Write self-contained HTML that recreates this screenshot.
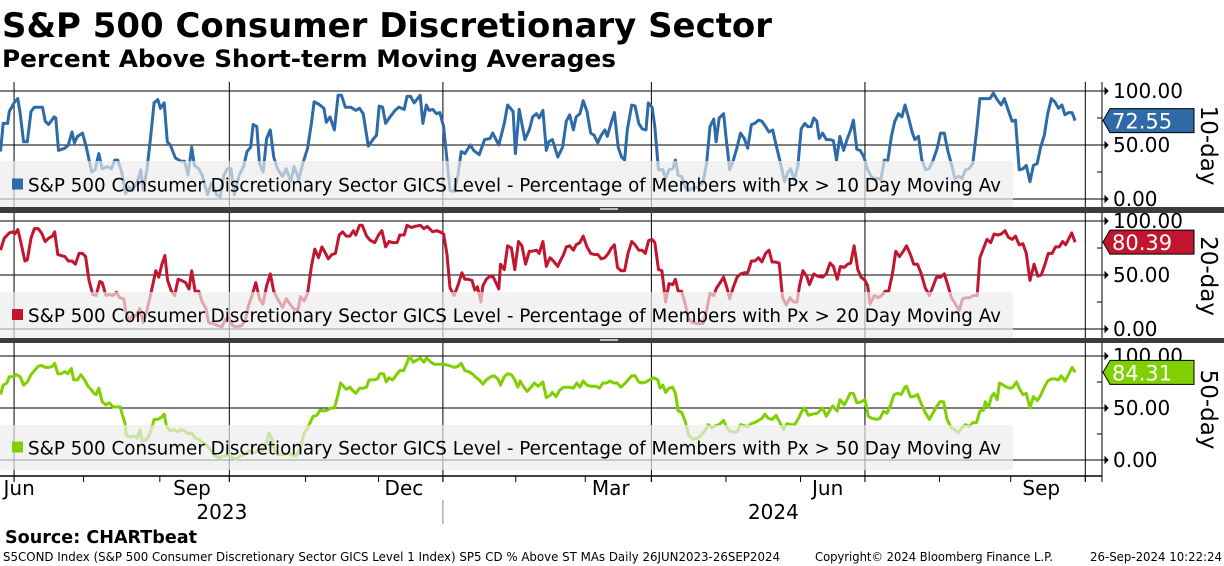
<!DOCTYPE html>
<html><head><meta charset="utf-8">
<style>
html,body{margin:0;padding:0;background:#fff;}
svg{display:block;}
text{font-family:"DejaVu Sans","Liberation Sans",sans-serif;}
</style></head>
<body>
<svg id="chart" width="1224" height="566" viewBox="0 0 1224 566" xmlns="http://www.w3.org/2000/svg">
<text x="2" y="37" font-size="34" font-weight="bold" textLength="770" lengthAdjust="spacingAndGlyphs">S&amp;P 500 Consumer Discretionary Sector</text>
<text x="2" y="67" font-size="24" font-weight="bold" textLength="614" lengthAdjust="spacingAndGlyphs">Percent Above Short-term Moving Averages</text>
<g id="grid"></g>
<g id="series"></g>
<g id="overlay"></g>
<text x="5" y="543" font-size="18" font-weight="bold" textLength="192" lengthAdjust="spacingAndGlyphs">Source: CHARTbeat</text>
<text x="3" y="561" font-size="12" textLength="777" lengthAdjust="spacingAndGlyphs">S5COND Index (S&amp;P 500 Consumer Discretionary Sector GICS Level 1 Index) SP5 CD % Above ST MAs  Daily 26JUN2023-26SEP2024</text>
<text x="815" y="561" font-size="12" textLength="238" lengthAdjust="spacingAndGlyphs">Copyright© 2024 Bloomberg Finance L.P.</text>
<text x="1090" y="561" font-size="12" textLength="132" lengthAdjust="spacingAndGlyphs">26-Sep-2024 10:22:24</text>
</svg>
<script>
// ---- data ----
const day10 = [0,0.8,2.1,2.6,4.2,5.1,5.8,6.8,7.9,9.0,10.0,12.4,13.2,14.2,15.8,16.3,17.1,19.0,20.0,21.1,21.8,22.7,24.2,25.3,26.9,27.9,29.0,30.0,31.6,32.7,33.7,34.6,35.8,36.9,37.9,39.0,40.6,41.4,42.1,43.2,44.3,45.3,46.4,47.2,48.3,49.2,50.1,51.6,53.2,54.3,55.3,56.4,57.2,58.5,59.5,61.1,62.2,63.8,64.8,65.9,66.9,68.0,69.0,70.4,71.7,72.7,73.8,74.5,75.6,76.4,77.5,78.5,79.6,80.6,81.7,83.2,84.3,85.6,86.6,88.0,89.0,90.6,91.7,92.5,93.8,95.4,96.1,97.2,98.5,99.6,100.6,101.7,103.3,104.8,105.9,107.0,108.5,110.1,110.9,111.7,112.7,113.6,114.9,116.4,117.5,119.1,119.9,121.0,122.0,123.8,124.6,125.6,126.4,127.5,128.6,129.6,130.7,131.7,132.6,133.8,134.9,135.9,137.0,138.6,139.6,141.2,142.8,144.4,145.2,147.0,148.6,149.6,151.2,151.9,153.0,154.7,156.0,157.0,158.1,158.9,160.0,161.0,161.7,162.8,164.4,165.8,166.9,167.9,169.0,169.8,170.9,171.9,173.0,174.1,175.1,176.2,177.2,178.3,179.0,180.1,181.1,182.2,183.2,184.1,184.9,186.2,187.2,188.3,189.3,190.4,191.1,192.2,193.0,194.1,195.4,196.2,197.2,198.3,199.1,199.9,200.9,202.0,203.0,204.1,205.7,207.2,208.3,209.3,210.4,211.1,212.0,213.3,214.1,215.1,216.2,217.3,218.3,219.4,220.4,221.5,222.5,223.6,224.6,225.7,226.7,227.8,228.8,230.1,231.3,232.3,233.1,234.1,235.2,236.2,237.3,238.1,239.1,239.9,240.8,241.5,242.5,243.6,244.7,245.7,246.6,247.6,248.7,249.7,250.8,251.6,252.6,253.6,254.7,255.7,256.8,257.8,258.9,259.7,260.7,261.7,262.8,263.8,264.9,265.9,266.8,267.8,268.9,269.7,270.8,271.8,272.9,273.9,275.0,276.3,277.3,278.4,279.4,280.7,281.5,282.6,283.6,284.7,285.7,286.8,287.9,288.9,290.5,291.9,292.9,294.0,295.2,296.1,297.3,298.4,299.4,300.5,301.6,302.6,303.7,304.7,305.8,306.8,307.9,308.9,310.0,311.0,312.1,313.1,314.0,315.0,316.1,317.0];
const pct10 = [44,70,70,81,90,93,79,53,53,81,85,85,72,69,76,75,45,47,50,62,52,58,61,48,25,27,42,28,30,28,36,36,24,5,11,8,18,27,8,27,58,89,92,84,89,53,50,38,35,35,22,48,31,28,22,4,15,4,2,22,28,28,4,22,30,44,48,69,67,33,25,56,64,39,28,21,28,16,30,18,31,47,70,90,88,84,71,76,64,96,96,85,85,82,84,79,49,56,59,86,85,70,76,82,85,83,95,95,89,96,70,87,82,83,79,80,67,36,8,7,21,44,42,50,45,41,55,56,61,50,70,87,81,42,83,55,64,76,79,75,82,45,53,55,39,48,72,78,64,76,79,91,81,61,59,52,59,64,58,70,80,48,39,36,64,87,86,70,65,64,89,85,67,27,27,19,27,28,36,22,21,11,8,10,11,15,33,67,74,53,75,79,55,27,36,48,61,56,47,69,70,73,72,67,62,64,50,33,16,25,28,18,30,65,70,67,67,75,72,56,61,55,55,54,36,58,45,55,64,73,46,45,39,28,21,19,19,18,36,35,58,72,79,76,87,76,62,55,58,36,27,28,35,47,61,61,45,30,19,21,19,27,28,33,62,93,93,93,98,92,87,93,82,72,73,27,28,31,16,31,33,48,59,79,93,90,84,87,78,80,80,72.55];

const day20 = [0,1.1,2.6,3.7,4.2,5.1,5.8,7.2,7.9,9.0,10.0,11.1,12.1,13.2,14.2,15.3,16.0,16.9,17.9,19.0,20.0,21.1,22.1,23.2,24.2,25.1,26.1,27.2,28.2,29.3,30.0,31.1,32.1,33.2,34.2,35.1,36.4,36.9,37.9,39.0,40.0,41.1,42.1,43.2,44.3,45.8,46.7,47.6,48.5,49.3,50.4,51.4,52.4,53.4,54.6,55.6,56.4,57.4,58.5,59.5,60.6,61.4,62.7,64.3,65.3,66.4,67.4,68.5,69.5,71.1,72.2,73.2,74.3,75.3,76.4,77.4,78.5,79.6,80.6,81.7,83.2,84.3,85.4,86.4,87.7,88.5,89.6,90.6,91.7,92.7,93.8,94.8,95.9,96.7,97.8,98.8,99.9,100.9,102.0,103.1,104.1,104.8,105.9,106.7,108.0,109.1,110.4,111.5,112.5,113.6,114.6,115.7,117.0,117.8,119.1,119.9,121.2,122.2,123.8,124.9,125.9,127.5,128.6,129.6,130.7,131.7,132.6,133.8,134.9,136.1,137.0,138.0,139.1,139.9,140.7,141.7,142.3,143.3,144.4,145.4,147.0,147.5,148.6,149.6,150.7,151.7,152.8,153.8,154.9,156.0,157.0,158.1,158.9,160.0,161.0,162.1,163.1,164.4,165.1,166.1,166.9,167.9,169.0,169.8,170.9,171.9,173.0,174.1,175.1,176.2,177.2,178.3,179.3,180.2,181.1,182.0,183.0,184.1,185.1,186.2,187.2,188.3,189.3,190.2,191.2,192.2,193.0,194.1,195.1,196.2,197.2,198.3,199.1,199.9,200.9,202.0,203.0,204.1,205.7,207.2,208.3,209.3,210.4,211.2,212.3,213.3,214.3,215.1,216.2,217.3,218.3,219.4,220.4,221.5,222.5,223.6,224.6,225.7,226.7,227.6,228.6,229.7,230.7,231.8,232.9,233.9,235.0,235.7,236.7,237.8,238.6,239.9,241.0,242.5,243.6,244.7,245.7,246.8,247.8,248.9,249.9,250.8,251.8,252.9,253.9,255.0,255.8,256.5,257.8,258.9,259.9,261.0,262.0,263.1,264.1,265.2,266.3,267.3,268.4,269.4,270.5,271.5,272.8,274.0,275.0,276.1,277.3,278.4,279.4,280.5,281.7,282.8,283.8,284.9,285.9,287.0,288.1,288.9,290.0,291.0,292.1,293.1,294.2,295.2,296.3,297.3,298.4,299.4,300.5,301.6,302.6,303.7,304.9,306.0,307.0,308.1,309.1,310.2,311.2,312.3,313.3,314.2,315.0,316.0,317.0];
const pct20 = [73,84,89,90,88,92,83,63,64,84,93,93,89,81,84,86,90,69,68,67,63,63,60,70,70,67,45,32,31,44,43,31,32,31,34,29,28,17,8,13,12,19,6,17,32,54,48,60,68,45,35,31,46,45,43,37,54,35,35,25,19,6,5,3,2,9,10,3,2,3,8,22,32,43,28,23,40,51,35,28,20,28,23,19,17,30,26,33,58,74,66,76,70,65,69,70,87,90,86,86,91,87,96,96,86,82,80,87,91,76,81,80,80,87,87,96,94,95,96,93,95,90,91,90,88,69,38,31,40,52,46,46,45,36,39,25,40,46,49,48,37,60,55,77,75,55,81,77,60,72,72,73,70,81,58,66,63,58,63,69,76,77,73,78,80,86,76,70,69,69,65,66,70,75,78,57,54,54,70,81,78,73,73,70,82,83,80,55,54,25,42,41,46,35,35,23,9,6,5,5,17,33,31,38,43,48,38,28,39,48,51,52,52,63,63,66,62,70,73,62,62,61,29,22,29,25,25,40,54,49,41,51,49,48,51,61,58,46,58,57,60,61,77,55,48,45,40,23,31,29,31,35,35,51,72,67,72,77,69,60,60,52,38,31,39,48,48,51,41,29,23,17,28,29,29,31,31,66,75,83,80,88,87,88,91,85,83,86,78,79,70,45,60,49,50,60,70,70,76,76,81,78,83,89,80.39];

const day50 = [0,0.8,1.9,2.6,3.7,4.7,5.8,6.8,7.9,9.0,10.0,11.1,12.1,13.2,14.2,15.3,16.0,16.9,17.9,19.0,19.8,20.9,21.6,22.7,23.7,24.8,25.8,26.9,27.6,28.2,29.0,30.0,31.1,32.1,33.2,34.2,35.3,35.8,36.7,37.1,38.1,39.2,40.3,41.1,41.9,43.2,44.3,45.3,46.4,47.4,48.3,49.0,50.1,51.1,52.2,53.2,54.3,55.3,56.4,57.4,58.5,59.5,60.6,62.2,63.2,64.5,65.9,67.4,68.5,69.5,70.8,71.7,73.2,74.8,76.1,77.4,78.5,79.2,80.1,81.1,82.2,83.2,84.3,85.1,86.2,87.2,88.3,89.6,90.6,91.5,92.2,93.3,94.3,95.4,96.4,97.5,98.5,99.6,100.3,101.2,102.0,103.1,103.8,104.8,105.9,107.0,108.0,108.7,110.1,111.2,111.9,113.0,113.8,114.6,115.7,116.8,117.8,118.9,119.6,120.7,121.7,122.8,123.8,124.9,125.7,127.0,128.0,129.1,130.7,132.2,133.8,134.9,135.9,137.0,138.0,139.1,140.1,141.2,142.3,143.3,144.6,145.6,146.7,147.5,148.6,149.6,150.7,151.7,152.6,153.3,154.4,155.4,156.5,157.5,158.6,160.0,161.0,162.1,162.8,163.9,164.9,166.1,167.7,169.0,170.0,170.9,171.9,173.0,174.1,175.6,176.7,177.7,178.8,179.8,180.9,181.9,183.0,184.6,186.2,187.2,188.3,189.3,190.4,191.4,192.8,193.9,194.6,195.4,196.2,197.2,198.3,199.1,199.9,200.9,202.0,203.0,204.1,205.7,206.5,207.8,208.8,209.9,210.9,212.0,213.3,214.1,215.1,216.2,217.3,218.3,219.4,220.4,221.5,222.5,223.6,224.6,225.5,226.5,227.6,228.8,229.9,231.0,232.0,233.1,234.3,235.4,236.4,237.3,238.3,239.4,241.0,242.5,243.6,244.7,245.5,246.8,247.6,248.9,249.9,250.6,251.6,252.6,253.9,255.0,256.0,257.1,258.4,259.4,260.5,261.5,262.6,263.6,264.7,265.7,266.8,267.3,268.4,269.4,270.5,271.5,272.9,274.0,275.0,276.1,277.1,278.2,279.2,280.5,281.5,282.6,283.6,284.7,285.7,286.8,287.9,288.9,290.0,290.5,291.5,292.3,293.1,294.0,294.7,295.8,296.8,297.9,298.6,299.7,300.5,301.6,302.6,303.7,304.7,305.8,306.8,307.9,308.9,310.0,311.0,312.1,312.9,314.0,315.0,316.1,317.0];
const pct50 = [63,72,74,80,80,82,80,72,75,82,86,90,91,89,89,90,93,83,83,85,83,88,77,77,82,77,71,67,64,63,69,56,53,55,51,51,51,45,36,24,22,23,21,29,18,20,27,39,39,41,44,32,28,29,27,29,28,25,26,21,20,17,15,9,4,2,4,5,2,1,4,5,9,7,9,9,17,26,20,7,5,5,6,7,4,4,10,26,31,37,42,43,48,47,48,50,50,63,74,71,68,70,67,64,69,69,70,77,77,78,83,83,75,79,77,82,86,86,91,100,94,96,98,94,98,94,92,92,92,91,89,90,93,86,85,83,80,77,73,77,80,81,78,72,80,83,82,77,70,76,70,66,70,74,71,75,60,62,65,61,67,70,70,69,74,70,76,72,71,71,69,74,74,76,74,74,70,75,81,81,75,74,75,77,79,77,69,72,65,69,70,64,47,46,37,24,20,21,23,28,34,31,33,34,38,32,28,27,27,34,33,32,35,36,38,40,44,40,39,43,36,29,35,34,34,40,47,50,43,44,45,50,42,48,52,47,58,53,59,64,64,55,56,58,42,40,39,40,47,45,53,63,64,63,70,71,61,61,63,55,45,39,45,51,56,56,39,31,29,26,31,34,32,36,36,47,48,56,51,61,64,58,74,72,70,69,70,75,69,63,64,50,61,57,62,70,76,78,78,77,81,76,82,89,84.31];

const lastValues = ["72.55","80.39","84.31"];
const panelNames = ["10-day","20-day","50-day"];
const yTickLabels = ["100.00","50.00","0.00"];
const yTickValues = [100,50,0];
const monthLabels = ["Jun","Sep","Dec","Mar","Jun","Sep"];
const monthLabelDays = [5.5,56.5,119,180,244,307];
const quarterDays = [4,67.5,130.5,192,255,320];
const monthTickDays = [4,24.5,47,67.5,90,111.5,130.5,152,172.5,192,214,236,255,277,298,320];
const yearLabels = ["2023","2024"];
const yearLabelDays = [65.3,228];

// ---- layout ----
const NS = "http://www.w3.org/2000/svg";
const colors = ["#2d6aa6","#c2162f","#80cf00"];
const panels = [{y100:91,y0:199,top:82,bot:209,lgTop:161,lgBot:208},
                {y100:221,y0:329,top:213,bot:339,lgTop:292,lgBot:338},
                {y100:356,y0:460,top:343,bot:476,lgTop:425,lgBot:470}];
const plotRight = 1102;
const xScale = t => 0.5 + t*3.39;
const yScale = (p,v) => p.y0 - (p.y0 - p.y100)*v/100;

function mk(tag, attrs, parent){
  const e = document.createElementNS(NS, tag);
  for (const k in attrs) e.setAttribute(k, attrs[k]);
  parent.appendChild(e);
  return e;
}
const grid = document.getElementById('grid');
const series = document.getElementById('series');
const overlay = document.getElementById('overlay');

// vertical quarter gridlines
quarterDays.forEach(d=>{
  const x = xScale(d);
  const l = mk('line',{x1:x,x2:x,y1:82,y2:482,stroke:'#000','stroke-width':1},grid);
  
  
});
// right axis line
const ax = mk('line',{x1:plotRight,x2:plotRight,y1:82,y2:482,stroke:'#000','stroke-width':1},grid);



const dataSets = [[day10,pct10],[day20,pct20],[day50,pct50]];
panels.forEach((p,i)=>{
  // horizontal gridlines
  yTickValues.forEach((v,j)=>{
    const y = yScale(p,v);
    const g = mk('line',{x1:0,x2:plotRight,y1:y,y2:y,stroke:'#000','stroke-width':1},grid);
    
    
    const tk = mk('path',{d:`M${plotRight-5} ${y}L${plotRight+3} ${y}M${plotRight+3} ${y-3}L${plotRight+6} ${y}L${plotRight+3} ${y+3}Z`,stroke:'#000',fill:'#000','stroke-width':1},grid);
    
    
    const t = mk('text',{x:1113,y:y+7,'font-size':20,fill:'#000'},grid);
    t.textContent = yTickLabels[j];
    
    
  });
  [25,75].forEach(v=>{
    const y = yScale(p,v);
    const m = mk('line',{x1:plotRight-5,x2:plotRight,y1:y,y2:y,stroke:'#000','stroke-width':1},grid);
    
    
  });
  // series line
  const [ds,vs] = dataSets[i];
  let d = '';
  ds.forEach((t,k)=>{ d += (k?'L':'M') + xScale(t).toFixed(1) + ' ' + yScale(p,vs[k]).toFixed(1); });
  const path = mk('path',{d:d,fill:'none',stroke:colors[i],'stroke-width':3,'stroke-linejoin':'round'},series);
  
  
  // legend box
  const lb = mk('rect',{x:0,y:p.lgTop,width:1013,height:p.lgBot-p.lgTop,rx:3,fill:'#ececec','fill-opacity':0.68},overlay);
  
  
  const ly = (p.lgTop+p.lgBot)/2;
  const sw = mk('rect',{x:12,y:ly-6,width:11,height:11,fill:colors[i]},overlay);
  
  
  const lt = mk('text',{x:28,y:ly+7,'font-size':19,fill:'#000',textLength:973,lengthAdjust:'spacingAndGlyphs'},overlay);
  lt.textContent = 'S&P 500 Consumer Discretionary Sector GICS Level - Percentage of Members with Px > ' + panelNames[i].split('-')[0] + ' Day Moving Av';
  
  
  // value tag
  const vy = yScale(p, parseFloat(lastValues[i]));
  const tag = mk('path',{d:`M1103 ${vy}L1110 ${vy-12}L1194 ${vy-12}L1194 ${vy+12}L1110 ${vy+12}Z`,fill:colors[i],stroke:'#000','stroke-width':1},overlay);
  
  
  const tt = mk('text',{x:1112,y:vy+8,'font-size':21,fill:'#fff'},overlay);
  tt.textContent = lastValues[i];
  
  
  // panel label
  const cy = (p.top+p.bot)/2;
  const pl = mk('text',{x:1201,y:cy,'font-size':23,fill:'#000','text-anchor':'middle',transform:`rotate(90 1201 ${cy})`},overlay);
  pl.textContent = panelNames[i];
  
  
});

// panel separators
[[207,213],[338,343]].forEach(([a,b])=>{
  const s = mk('rect',{x:0,y:a,width:1224,height:b-a,fill:'#3c3c3c'},overlay);
  
  
  const h = mk('rect',{x:600,y:a+1,width:18,height:2,fill:'#bbb'},overlay);
  
  
});

// x axis
const xa = mk('line',{x1:0,x2:plotRight,y1:476,y2:476,stroke:'#000','stroke-width':1.5},overlay);


monthTickDays.forEach(dd=>{
  const x = xScale(dd);
  const t = mk('line',{x1:x,x2:x,y1:476,y2:482,stroke:'#000','stroke-width':1},overlay);
  
  
});
monthLabels.forEach((m,i)=>{
  const x = Math.max(19, xScale(monthLabelDays[i]));
  const t = mk('text',{x:x,y:495,'font-size':20,'text-anchor':'middle',fill:'#000'},overlay);
  t.textContent = m;
  
  
});
yearLabels.forEach((yl,i)=>{
  const t = mk('text',{x:xScale(yearLabelDays[i]),y:519,'font-size':20,'text-anchor':'middle',fill:'#000'},overlay);
  t.textContent = yl;
  
  
});
const ys = mk('line',{x1:xScale(130.5),x2:xScale(130.5),y1:500,y2:524,stroke:'#888','stroke-width':1},overlay);


</script>
</body></html>
